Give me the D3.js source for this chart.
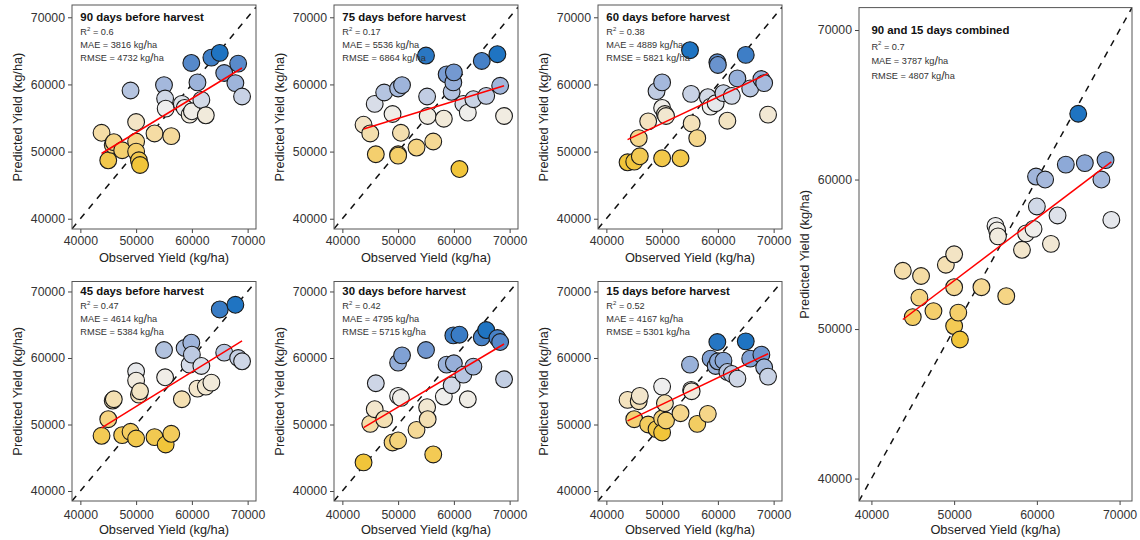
<!DOCTYPE html>
<html>
<head>
<meta charset="utf-8">
<script src="https://cdn.jsdelivr.net/npm/d3@7"></script>
<style>
  body { margin: 0; background: #fff; }
  svg { display: block; font-family: "Liberation Sans", Arial, Helvetica, sans-serif; }
</style>
</head>
<body>
<div id="chart"></div>
<script>
// Observed yield of the 30 fields (kg/ha), same for every panel
const observed = [43800, 45000, 45800, 46000, 47500, 49000, 50000, 50000, 50000, 50500,
                  50700, 53300, 55000, 55200, 55300, 56300, 58200, 58700, 59600, 59900,
                  60000, 61000, 61700, 62500, 63500, 65000, 65800, 67800, 68300, 69000];

// Predicted yield (kg/ha) for each model, in the same field order
const pred90 = [52800, 48700, 51000, 51400, 50200, 59100, 54400, 51500, 50000, 48700,
                48000, 52700, 59900, 57900, 56400, 52300, 57100, 56500, 55500, 63200,
                56000, 60300, 57700, 55400, 64000, 64700, 61700, 60200, 63100, 58200];
const pred75 = [54000, 52700, 57100, 49600, 58800, 55600, 59400, 49600, 49400, 52800,
                59900, 50600, 64300, 58200, 55300, 51500, 54900, 61500, 58900, 60300,
                61800, 47400, 57100, 55800, 57800, 63500, 58300, 64500, 59800, 55300];
const pred60 = [48400, 48500, 52000, 49300, 54500, 59000, 56500, 49000, 60300, 55600,
                55300, 49000, 65100, 58600, 54200, 52000, 58100, 56700, 57200, 63300,
                62900, 58700, 54600, 58300, 60900, 64400, 59400, 60800, 60200, 55500];
const pred45 = [48300, 50800, 53600, 53800, 48400, 48900, 58000, 56600, 47900, 54500,
                55000, 48100, 61200, 57100, 47000, 48600, 53800, 61500, 59000, 62300,
                60500, 55400, 58800, 55700, 56300, 67300, 60800, 68000, 60000, 59500];
const pred30 = [44300, 50100, 52300, 56200, 50800, 47300, 54300, 47600, 59300, 54000,
                60400, 49200, 61200, 52600, 50800, 45500, 54200, 59000, 55900, 63400,
                59200, 63500, 57500, 53800, 58700, 63100, 64200, 63000, 62400, 56800];
const pred15 = [53700, 50800, 53500, 54300, 50000, 49300, 55700, 50900, 48800, 53200,
                50600, 51700, 59000, 55200, 55000, 50100, 51600, 59900, 58800, 62400,
                59500, 59600, 57900, 57600, 56900, 62500, 59900, 60500, 58600, 57200];
const predCombined = [53900, 50800, 52100, 53550, 51200, 54300, 55000, 52800, 50200, 51100,
                      49300, 52800, 56900, 56600, 56200, 52200, 55300, 56400, 56700, 60200,
                      58200, 60000, 55700, 57600, 61000, 64400, 61100, 60000, 61300, 57300];

const panelTitles = ["90 days before harvest", "75 days before harvest", "60 days before harvest",
                     "45 days before harvest", "30 days before harvest", "15 days before harvest",
                     "90 and 15 days combined"];
const r2Labels = ["0.6", "0.17", "0.38", "0.47", "0.42", "0.52", "0.7"];
const maeLabels = ["3816", "5536", "4889", "4614", "4795", "4167", "3787"];
const rmseLabels = ["4732", "6864", "5821", "5384", "5715", "5301", "4807"];
const tickValues = [40000, 50000, 60000, 70000];

const predictions = [pred90, pred75, pred60, pred45, pred30, pred15, predCombined];

// panel boxes in pixels
const row1 = { y0: 5, y1: 229, yDomain: [38470, 71830], pad: 3 };
const row2 = { y0: 281.5, y1: 501, yDomain: [38500, 71500], pad: 5 };
const layout = [
  { x0: 72, x1: 256, ...row1, lines: [15, 27.5, 41] },
  { x0: 334, x1: 518, ...row1, lines: [15, 27.5, 41] },
  { x0: 598, x1: 782, ...row1, lines: [15, 27.5, 41] },
  { x0: 72, x1: 256, ...row2, lines: [15, 27.5, 41] },
  { x0: 334, x1: 518, ...row2, lines: [15, 27.5, 41] },
  { x0: 598, x1: 782, ...row2, lines: [15, 27.5, 41] },
  { x0: 859, x1: 1132, y0: 7.6, y1: 501, yDomain: [38500, 71500], pad: 5, lines: [16.7, 31, 46] }
];

const svg = d3.select("#chart")
  .append("svg")
  .attr("width", 1140)
  .attr("height", 540);

function drawPanel(i) {
  const L = layout[i];
  const pred = predictions[i];
  const pts = observed.map((o, k) => ({ obs: o, pred: pred[k] }));

  const x = d3.scaleLinear().domain([38500, 71500]).range([L.x0, L.x1]);
  const y = d3.scaleLinear().domain(L.yDomain).range([L.y1, L.y0]);

  const ext = d3.extent(pred);
  const color = d3.scaleLinear()
    .domain([ext[0], (ext[0] + ext[1]) / 2, ext[1]])
    .range(["#f1c53a", "#efefee", "#1f74c2"])
    .interpolate(d3.interpolateLab);

  const g = svg.append("g");

  g.append("clipPath").attr("id", "clip" + i)
    .append("rect")
    .attr("x", L.x0).attr("y", L.y0)
    .attr("width", L.x1 - L.x0).attr("height", L.y1 - L.y0);

  // x axis
  const xa = g.append("g")
    .attr("transform", `translate(0,${L.y1})`)
    .call(d3.axisBottom(x).tickValues(tickValues).tickSize(4).tickPadding(L.pad).tickFormat(d3.format("d")));
  // y axis
  const ya = g.append("g")
    .attr("transform", `translate(${L.x0},0)`)
    .call(d3.axisLeft(y).tickValues(tickValues).tickSize(4).tickPadding(3).tickFormat(d3.format("d")));
  [xa, ya].forEach(a => {
    a.select(".domain").remove();
    a.selectAll("line").attr("stroke", "#444");
    a.selectAll("text").attr("fill", "#333").style("font-size", "12.3px").style("font-family", null);
  });

  // axis titles
  g.append("text")
    .attr("x", (L.x0 + L.x1) / 2)
    .attr("y", L.y1 + 28)
    .attr("text-anchor", "middle")
    .attr("dominant-baseline", "central")
    .attr("font-size", "12.8px")
    .attr("fill", "#222")
    .text("Observed Yield (kg/ha)");
  g.append("text")
    .attr("transform", `translate(${L.x0 - 55},${(L.y0 + L.y1) / 2}) rotate(-90)`)
    .attr("text-anchor", "middle")
    .attr("dominant-baseline", "central")
    .attr("font-size", "12.8px")
    .attr("fill", "#222")
    .text("Predicted Yield (kg/ha)");

  const plot = g.append("g").attr("clip-path", `url(#clip${i})`);

  // 1:1 line
  plot.append("path")
    .datum([[38500, 38500], [71500, 71500]])
    .attr("fill", "none")
    .attr("stroke", "#111")
    .attr("stroke-width", 1.5)
    .attr("stroke-dasharray", "6.5,6.5")
    .attr("d", d3.line().x(d => x(d[0])).y(d => y(d[1])));

  // points
  plot.selectAll("circle")
    .data(pts)
    .join("circle")
    .attr("cx", d => x(d.obs))
    .attr("cy", d => y(d.pred))
    .attr("r", 8.4)
    .attr("fill", d => color(d.pred))
    .attr("stroke", "#1a1a1a")
    .attr("stroke-width", 1.1);

  // linear fit
  const mx = d3.mean(pts, d => d.obs);
  const my = d3.mean(pts, d => d.pred);
  const slope = d3.sum(pts, d => (d.obs - mx) * (d.pred - my)) / d3.sum(pts, d => (d.obs - mx) ** 2);
  const icpt = my - slope * mx;
  const xr = d3.extent(observed);
  plot.append("path")
    .datum(xr.map(v => [v, icpt + slope * v]))
    .attr("fill", "none")
    .attr("stroke", "#ff0000")
    .attr("stroke-width", 1.5)
    .attr("d", d3.line().x(d => x(d[0])).y(d => y(d[1])));

  // frame
  g.append("rect")
    .attr("x", L.x0).attr("y", L.y0)
    .attr("width", L.x1 - L.x0).attr("height", L.y1 - L.y0)
    .attr("fill", "none")
    .attr("stroke", "#555")
    .attr("stroke-width", 1);

  // annotations
  const tx = x(40000);
  const ty = y(70000);
  g.append("text")
    .attr("x", tx).attr("y", ty)
    .attr("dominant-baseline", "central")
    .attr("font-size", "11.4px")
    .attr("font-weight", "bold")
    .attr("fill", "#111")
    .text(panelTitles[i]);

  const r2 = g.append("text")
    .attr("x", tx).attr("y", ty + L.lines[0])
    .attr("dominant-baseline", "central")
    .attr("font-size", "9.2px")
    .attr("fill", "#333");
  r2.append("tspan").text("R");
  r2.append("tspan").attr("font-size", "6px").attr("dy", -3.5).text("2");
  r2.append("tspan").attr("dy", 3.5).text(" = " + r2Labels[i]);

  [["MAE = " + maeLabels[i], L.lines[1]], ["RMSE = " + rmseLabels[i], L.lines[2]]].forEach(([s, off]) => {
    const t = g.append("text")
      .attr("x", tx).attr("y", ty + off)
      .attr("dominant-baseline", "central")
      .attr("font-size", "9.2px")
      .attr("fill", "#333");
    t.append("tspan").text(s + " kg");
    t.append("tspan").attr("font-size", "12.5px").text("/");
    t.append("tspan").text("ha");
  });
}

predictions.forEach((p, i) => drawPanel(i));
</script>
</body>
</html>
